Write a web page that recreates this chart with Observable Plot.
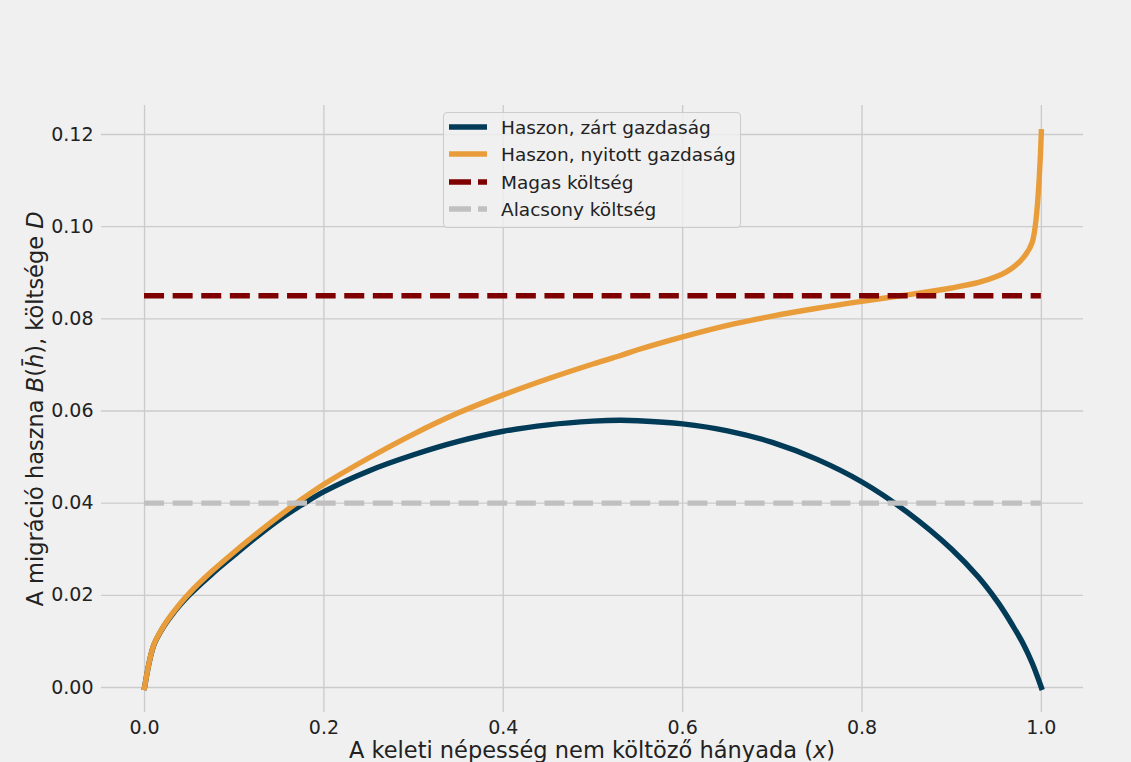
<!DOCTYPE html>
<html>
<head>
<meta charset="utf-8">
<script src="https://cdn.jsdelivr.net/npm/d3@7"></script>
<script src="https://cdn.jsdelivr.net/npm/@observablehq/plot@0.6"></script>
<style>
  html, body { margin: 0; padding: 0; background: #f0f0f0; }
  #wrap { position: relative; width: 1131px; height: 762px; overflow: hidden; font-family: "DejaVu Sans", sans-serif; }
  #legend { position: absolute; left: 443px; top: 112px; width: 298px; height: 116px; box-sizing: border-box;
            border: 1px solid #cccccc; border-radius: 4px; background: rgba(240,240,240,0.8); }
  .row { position: absolute; left: 0; height: 28px; display: flex; align-items: center; }
  .row svg { margin-left: 5px; }
  .row span { position: absolute; left: 57px; font-size: 18.5px; color: #222; white-space: nowrap; top: 1px; line-height: 28px; }
</style>
</head>
<body>
<div id="wrap"></div>
<script>
// Share of the eastern population that does not migrate (x)
const xs = [0, 0.01, 0.02, 0.03, 0.04, 0.05, 0.075, 0.1, 0.125, 0.15, 0.175, 0.2, 0.25, 0.3, 0.35, 0.4, 0.45, 0.5, 0.53, 0.55, 0.6, 0.65, 0.7, 0.75, 0.8, 0.85, 0.9, 0.93, 0.95, 0.96, 0.97, 0.98, 0.99, 1.0];
// Benefit, closed economy
const closedBenefit = [0, 0.0090, 0.0128, 0.0156, 0.0180, 0.0201, 0.0246, 0.0287, 0.0327, 0.0364, 0.0396, 0.0425, 0.0470, 0.0505, 0.0534, 0.0556, 0.0570, 0.0578, 0.0580, 0.0579, 0.0572, 0.0557, 0.0532, 0.0495, 0.0446, 0.0381, 0.0300, 0.0239, 0.0189, 0.0160, 0.0128, 0.0094, 0.0052, 0];
// Benefit, open economy
const openBenefit = [0, 0.0091, 0.0129, 0.0158, 0.0183, 0.0205, 0.0252, 0.0294, 0.0334, 0.0372, 0.0408, 0.0441, 0.0498, 0.0550, 0.0596, 0.0635, 0.0670, 0.0702, 0.0720, 0.0733, 0.0761, 0.0786, 0.0806, 0.0823, 0.0838, 0.0852, 0.0867, 0.0879, 0.0892, 0.0901, 0.0914, 0.0933, 0.0967, 0.1206];
// Costs
const highCost = 0.085;
const lowCost = 0.04;
const xTicks = [0, 0.2, 0.4, 0.6, 0.8, 1.0];
const yTicks = [0, 0.02, 0.04, 0.06, 0.08, 0.10, 0.12];
const seriesNames = ["Haszon, zárt gazdaság", "Haszon, nyitott gazdaság", "Magas költség", "Alacsony költség"];
const colors = ["#013b57", "#e99d3a", "#7f0000", "#c0c0c0"];

const closedData = xs.map((x, i) => ({x, y: closedBenefit[i]}));
const openData = xs.map((x, i) => ({x, y: openBenefit[i]}));
const xMin = xs[0], xMax = xs[xs.length - 1];

const LW = 5.4;
const DASH = "20,8.6";

const chart = Plot.plot({
  width: 1131,
  height: 762,
  marginLeft: 101,
  marginRight: 48,
  marginTop: 105,
  marginBottom: 50,
  style: { background: "#f0f0f0", fontFamily: "DejaVu Sans", fontSize: "19px", color: "#222", overflow: "visible" },
  x: { domain: [-0.048, 1.047] },
  y: { domain: [-0.00543, 0.1263] },
  marks: [
    Plot.gridX(xTicks, { stroke: "#cbcbcb", strokeOpacity: 1, strokeWidth: 1.35 }),
    Plot.gridY(yTicks, { stroke: "#cbcbcb", strokeOpacity: 1, strokeWidth: 1.35 }),
    Plot.axisX({ ticks: xTicks, tickFormat: ".1f", tickSize: 0, tickPadding: 8, label: null, fontSize: 19 }),
    Plot.axisY({ ticks: yTicks, tickFormat: ".2f", tickSize: 0, tickPadding: 8, label: null, fontSize: 19 }),
    Plot.line(closedData, { x: "x", y: "y", stroke: colors[0], strokeWidth: LW, curve: "catmull-rom", strokeLinecap: "square", strokeLinejoin: "round" }),
    Plot.line(openData, { x: "x", y: "y", stroke: colors[1], strokeWidth: LW, curve: "catmull-rom", strokeLinecap: "square", strokeLinejoin: "round" }),
    Plot.ruleY([highCost], { x1: xMin, x2: xMax, stroke: colors[2], strokeWidth: LW, strokeDasharray: DASH }),
    Plot.ruleY([lowCost], { x1: xMin, x2: xMax, stroke: colors[3], strokeWidth: LW, strokeDasharray: DASH })
  ]
});

const wrap = document.getElementById("wrap");
wrap.appendChild(chart);

// Axis titles (with italic math parts)
const svg = d3.select(chart);
const xl = svg.append("text")
  .attr("x", 592).attr("y", 758)
  .attr("text-anchor", "middle")
  .attr("font-family", "DejaVu Sans").attr("font-size", 22.5).attr("fill", "#222");
xl.append("tspan").text("A keleti népesség nem költöző hányada (");
xl.append("tspan").attr("font-style", "italic").text("x");
xl.append("tspan").text(")");

const yl = svg.append("text")
  .attr("transform", "translate(43,409) rotate(-90)")
  .attr("text-anchor", "middle")
  .attr("font-family", "DejaVu Sans").attr("font-size", 22.5).attr("fill", "#222");
yl.append("tspan").text("A migráció haszna ");
yl.append("tspan").attr("font-style", "italic").text("B");
yl.append("tspan").text("(");
yl.append("tspan").attr("font-style", "italic").text("h\u0304");
yl.append("tspan").text("), költsége ");
yl.append("tspan").attr("font-style", "italic").text("D");

// Legend
const legend = document.createElement("div");
legend.id = "legend";
seriesNames.forEach((name, i) => {
  const row = document.createElement("div");
  row.className = "row";
  row.style.top = (13.7 + 27.55 * i - 14) + "px";
  const dashed = i >= 2;
  row.innerHTML = `<svg width="38" height="10"><line x1="0" x2="38" y1="5" y2="5" stroke="${colors[i]}" stroke-width="${LW}" ${dashed ? `stroke-dasharray="22,7"` : ""}/></svg><span>${name}</span>`;
  legend.appendChild(row);
});
wrap.appendChild(legend);
</script>
</body>
</html>
